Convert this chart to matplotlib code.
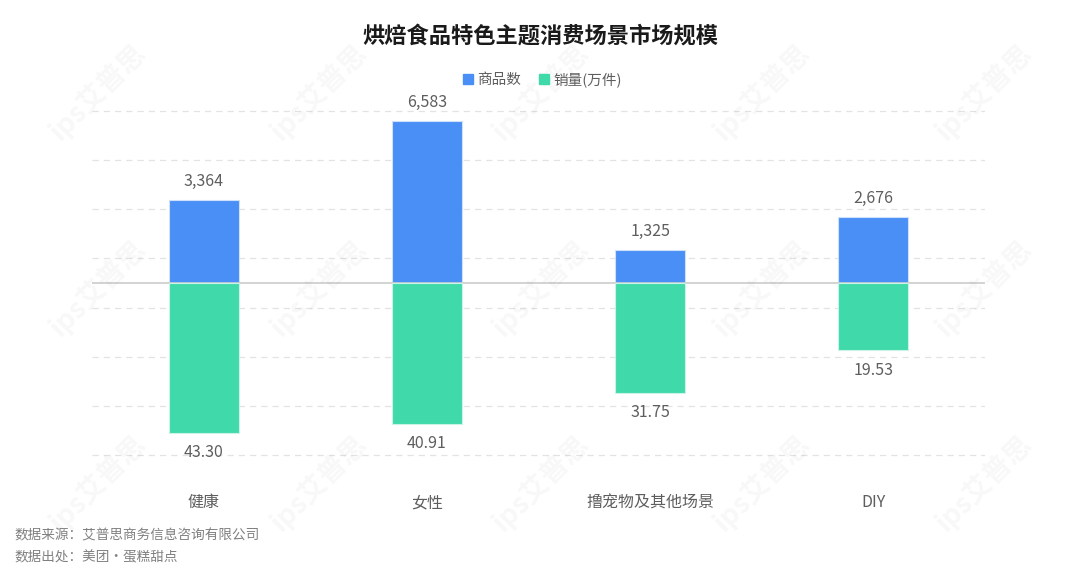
import matplotlib.pyplot as plt
import numpy as np

plt.rcParams['font.family'] = ['Noto Sans CJK SC', 'DejaVu Sans']

# 数据
categories = ['健康', '女性', '撸宠物及其他场景', 'DIY']
goods_count = [3364, 6583, 1325, 2676]        # 商品数
sales_wan = [43.30, 40.91, 31.75, 19.53]      # 销量(万件)

blue = '#4a8ff5'
green = '#3fd9aa'
grey_text = '#5e5e5e'

fig = plt.figure(figsize=(10.8, 5.75), dpi=100)
ax = fig.add_axes([92 / 1080, 109 / 575, 893 / 1080, 366 / 575])
ax2 = ax.twinx()

x = np.arange(len(categories))
w = 0.3125

# 上方：商品数；下方：销量（另一坐标轴，零点对齐）
top_lim = 7436
bot_lim = 53.0
ax.set_ylim(-top_lim, top_lim)
ax2.set_ylim(-bot_lim, bot_lim)
ax.set_xlim(-0.5, 3.5)

ax.bar(x, goods_count, width=w, color=blue, edgecolor='#cfe0fb', linewidth=0.8, zorder=3)
ax2.bar(x, [-v for v in sales_wan], width=w, color=green, edgecolor='#c9f3e6', linewidth=0.8, zorder=3)

for xi, v in zip(x, goods_count):
    ax.annotate(f'{v:,}', (xi, v), xytext=(0, 7.5), textcoords='offset points',
                ha='center', va='bottom', fontsize=11.5, color=grey_text)
for xi, v in zip(x, sales_wan):
    ax2.annotate(f'{v:.2f}', (xi, -v), xytext=(0, -8), textcoords='offset points',
                 ha='center', va='top', fontsize=11.5, color=grey_text)

# 网格线
ax.set_yticks([-7000, -5000, -3000, -1000, 1000, 3000, 5000, 7000])
ax.grid(axis='y', color='#e3e3e3', linestyle=(0, (5, 4)), linewidth=0.9, zorder=0)
ax.axhline(0, color='#cccccc', linewidth=1.2, zorder=4)
ax.set_axisbelow(True)

for a in (ax, ax2):
    for s in a.spines.values():
        s.set_visible(False)
    a.tick_params(left=False, right=False, bottom=False, labelleft=False, labelright=False)
ax2.set_yticks([])

ax.set_xticks(x)
ax.set_xticklabels(categories, fontsize=11.5, color=grey_text)
ax.tick_params(axis='x', pad=17)

# 标题与图例
fig.text(0.5, 1 - 36 / 575, '烘焙食品特色主题消费场景市场规模', ha='center', va='center',
         fontsize=16, fontweight='bold', color='#1a1a1a')
handles = [plt.Rectangle((0, 0), 1, 1, color=blue), plt.Rectangle((0, 0), 1, 1, color=green)]
fig.legend(handles, ['商品数', '销量(万件)'], loc='center', bbox_to_anchor=(0.502, 1 - 80 / 575),
           ncol=2, frameon=False, fontsize=10.5, handlelength=0.7, handleheight=0.7,
           handletextpad=0.3, columnspacing=1.2, labelcolor=grey_text)

# 来源
fig.text(14 / 1080, 1 - 535 / 575, '数据来源：艾普思商务信息咨询有限公司', ha='left', va='center',
         fontsize=9.8, color='#808080')
fig.text(14 / 1080, 1 - 557 / 575, '数据出处：美团·蛋糕甜点', ha='left', va='center',
         fontsize=9.8, color='#808080')

# 水印
for wx in np.linspace(0.09, 0.91, 5):
    for wy in np.linspace(0.16, 0.84, 3):
        fig.text(wx, wy, 'ips艾普思', rotation=45, fontsize=20, fontweight='bold',
                 color='#000000', alpha=0.03, ha='center', va='center', zorder=0)

fig.savefig('out.png', dpi=100)
